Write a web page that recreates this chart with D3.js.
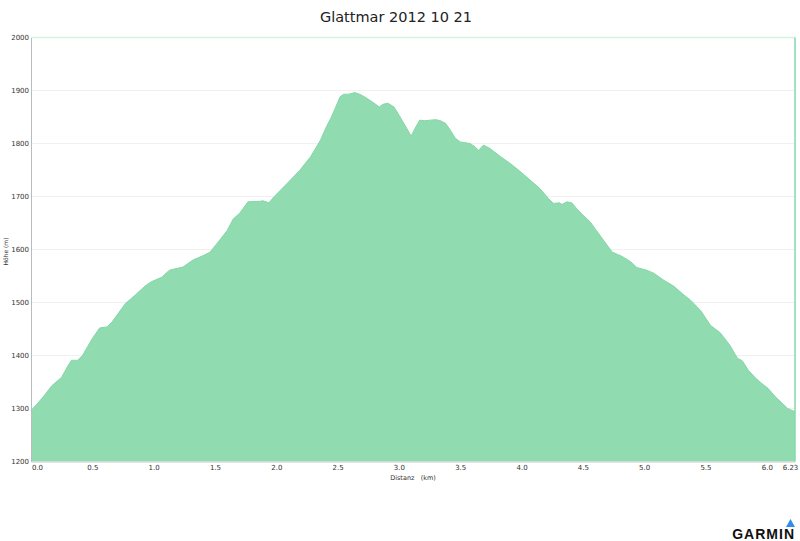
<!DOCTYPE html>
<html>
<head>
<meta charset="utf-8">
<script src="https://cdn.jsdelivr.net/npm/d3@7"></script>
<style>
  body { margin: 0; background: #fff; }
  svg { display: block; font-family: "DejaVu Sans", sans-serif; }
</style>
</head>
<body>
<div id="chart"></div>
<script>
// Elevation profile - Glattmar 2012 10 21
const title = 'Glattmar 2012 10 21'

// distance (km) and elevation (m), read from the profile
const distKm = [0.00, 0.04, 0.10, 0.17, 0.22, 0.25, 0.30, 0.33, 0.38, 0.42, 0.50, 0.56, 0.62, 0.66, 0.77, 0.85, 0.93, 0.98, 1.07, 1.09,
  1.13, 1.24, 1.32, 1.41, 1.46, 1.54, 1.60, 1.65, 1.70, 1.77, 1.87, 1.89, 1.94, 1.98, 2.09, 2.19, 2.28, 2.36, 2.41, 2.45,
  2.48, 2.52, 2.55, 2.59, 2.64, 2.68, 2.72, 2.78, 2.84, 2.87, 2.91, 2.96, 3.00, 3.04, 3.10, 3.13, 3.17, 3.21, 3.30, 3.34,
  3.38, 3.42, 3.46, 3.50, 3.58, 3.62, 3.65, 3.69, 3.74, 3.83, 3.91, 3.99, 4.07, 4.15, 4.22, 4.26, 4.31, 4.33, 4.37, 4.41,
  4.45, 4.50, 4.56, 4.61, 4.67, 4.74, 4.78, 4.82, 4.89, 4.94, 5.02, 5.08, 5.16, 5.24, 5.31, 5.38, 5.46, 5.54, 5.58, 5.62,
  5.70, 5.76, 5.80, 5.85, 5.91, 5.96, 6.01, 6.07, 6.13, 6.17, 6.23]
const elevM = [1296, 1306, 1322, 1343, 1353, 1359, 1380, 1391, 1391, 1400, 1432, 1452, 1454, 1463, 1498, 1514, 1531, 1539, 1548, 1553,
  1561, 1567, 1580, 1589, 1595, 1618, 1636, 1658, 1668, 1690, 1691, 1692, 1688, 1699, 1725, 1749, 1775, 1806, 1832, 1850,
  1866, 1888, 1893, 1893, 1896, 1893, 1888, 1879, 1869, 1874, 1876, 1869, 1854, 1838, 1814, 1828, 1844, 1843, 1845, 1843,
  1838, 1825, 1810, 1803, 1800, 1794, 1787, 1797, 1791, 1775, 1762, 1747, 1731, 1715, 1696, 1687, 1688, 1685, 1690, 1688,
  1677, 1665, 1652, 1636, 1617, 1595, 1591, 1587, 1577, 1566, 1561, 1555, 1542, 1531, 1517, 1504, 1485, 1457, 1450, 1443,
  1419, 1395, 1390, 1372, 1357, 1347, 1338, 1322, 1309, 1300, 1294]

const xTicks = [0, 0.5, 1.0, 1.5, 2.0, 2.5, 3.0, 3.5, 4.0, 4.5, 5.0, 5.5, 6.0, 6.23]
const yTicks = [1200, 1300, 1400, 1500, 1600, 1700, 1800, 1900, 2000]

const profile = distKm.map((d, i) => ({ dist: d, elev: elevM[i] }))

const W = 800, H = 541
const margin = { top: 37.5, right: 5, bottom: 79.5, left: 31 }
const width = W - margin.left - margin.right
const height = H - margin.top - margin.bottom

const x = d3.scaleLinear().domain([0, 6.23]).range([0, width])
const y = d3.scaleLinear().domain([1200, 2000]).range([height, 0])

const svg = d3.select('#chart').append('svg')
    .attr('width', W)
    .attr('height', H)

svg.append('text')
    .attr('x', 396)
    .attr('y', 22)
    .attr('text-anchor', 'middle')
    .attr('font-size', 14.5)
    .attr('fill', '#222')
    .text(title)

const g = svg.append('g')
    .attr('transform', `translate(${margin.left},${margin.top})`)

// faint gridlines
g.selectAll('.grid')
    .data(yTicks.filter(t => t > 1200 && t < 2000))
    .join('line')
    .attr('x1', 0)
    .attr('x2', width)
    .attr('y1', d => y(d))
    .attr('y2', d => y(d))
    .attr('stroke', '#f0f0f0')
    .attr('stroke-width', 1)

// top border
g.append('line')
    .attr('x1', 0).attr('x2', width)
    .attr('y1', y(2000)).attr('y2', y(2000))
    .attr('stroke', '#d6f3e4')
    .attr('stroke-width', 1.5)

const area = d3.area()
    .x(d => x(d.dist))
    .y0(height)
    .y1(d => y(d.elev))

g.append('path')
    .datum(profile)
    .attr('d', area)
    .attr('fill', '#90dbaf')

g.append('path')
    .datum(profile)
    .attr('d', d3.line().x(d => x(d.dist)).y(d => y(d.elev)))
    .attr('fill', 'none')
    .attr('stroke', '#86d7a8')
    .attr('stroke-width', 1)

// right edge marker
g.append('line')
    .attr('x1', x(6.23)).attr('x2', x(6.23))
    .attr('y1', 0).attr('y2', height)
    .attr('stroke', '#86d9aa')
    .attr('stroke-width', 1.5)

// y axis
const yAxis = g.append('g')
    .call(d3.axisLeft(y).tickValues(yTicks).tickSize(0).tickPadding(2).tickFormat(d3.format('d')))
yAxis.select('.domain').attr('stroke', '#bbb')
yAxis.selectAll('text').attr('font-size', 7).attr('fill', '#333').attr('font-family', '"DejaVu Sans", sans-serif')

// x axis
const xAxis = g.append('g')
    .attr('transform', `translate(0,${height})`)
    .call(d3.axisBottom(x).tickValues(xTicks).tickSize(0).tickPadding(4)
        .tickFormat(d => d === 6.23 ? '6.23' : d3.format('.1f')(d)))
xAxis.select('.domain').attr('stroke', '#ccc')
xAxis.selectAll('text').attr('font-size', 7).attr('fill', '#333').attr('font-family', '"DejaVu Sans", sans-serif')
xAxis.selectAll('.tick').filter(d => d === 0).select('text').attr('dx', 6)
xAxis.selectAll('.tick').filter(d => d === 6.23).select('text').attr('dx', -5)

// axis titles
svg.append('text')
    .attr('x', 413)
    .attr('y', 480)
    .attr('text-anchor', 'middle')
    .attr('font-size', 6.5)
    .attr('fill', '#333')
    .attr('xml:space', 'preserve')
    .text('Distanz   (km)')

svg.append('text')
    .attr('transform', `translate(8,${margin.top + height / 2 + 2}) rotate(-90)`)
    .attr('text-anchor', 'middle')
    .attr('font-size', 6)
    .attr('fill', '#333')
    .text('Höhe (m)')

// Garmin logo
svg.append('text')
    .attr('x', 795)
    .attr('y', 539)
    .attr('text-anchor', 'end')
    .attr('font-size', 14)
    .attr('font-weight', 'bold')
    .attr('letter-spacing', 1)
    .attr('fill', '#111')
    .attr('font-family', '"Liberation Sans", sans-serif')
    .text('GARMIN')
svg.append('path')
    .attr('d', 'M786,527 L795,527 L790.5,519 Z')
    .attr('fill', '#2e8ee8')
</script>
</body>
</html>
